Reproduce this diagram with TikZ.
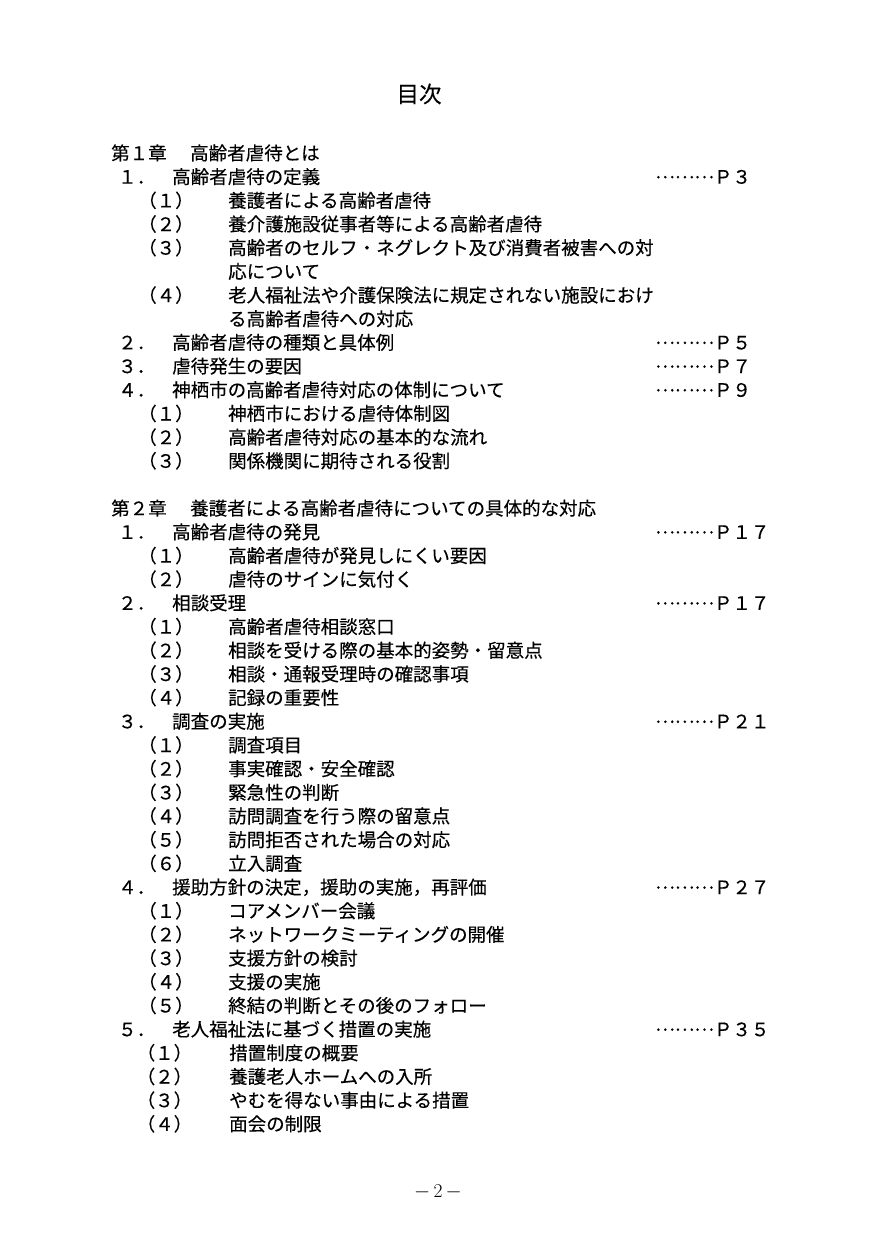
\documentclass[tikz,border=0pt]{standalone}
\usepackage{fontspec}
\usepackage{tikz}
\newfontfamily\jpfont[FakeBold=0.3]{Noto Sans CJK JP}
\newfontfamily\jpwide[FakeBold=0.3,RawFeature=+fwid]{Noto Sans CJK JP}
\newcommand\leaderdots{\raisebox{5.5pt}{\jpwide ………}}

\tikzset{
	entry/.style	= {anchor=base west, inner sep=0pt,
				font=\jpfont\fontsize{18.5}{20}\selectfont},
	heading/.style	= {anchor=base, inner sep=0pt,
				font=\jpfont\fontsize{22.5}{24}\selectfont},
	folio/.style	= {anchor=base, inner sep=0pt,
				font=\fontsize{19.5}{21}\selectfont}
}

\begin{document}
\begin{tikzpicture}[x=1pt, y=-1pt]
		%\draw[help lines] (0,0) grid (874,1236);
		\useasboundingbox (0,0) rectangle (874,1236);

		\node[heading] (title) at (419,102.5) {目次};

		% chapter 1
		\node[entry] (c1)   at (111,160.0) {第１章};
		\node[entry] (c1t)  at (190,160.0) {高齢者虐待とは};

		\node[entry] (n11)  at (118,183.7) {１．};
		\node[entry] (t11)  at (172,183.7) {高齢者虐待の定義};
		\node[entry] (p11)  at (655,183.7) {\leaderdots Ｐ３};
		\node[entry] (n111) at (138,207.4) {（１）};
		\node[entry] (t111) at (228,207.4) {養護者による高齢者虐待};
		\node[entry] (n112) at (138,231.0) {（２）};
		\node[entry] (t112) at (228,231.0) {養介護施設従事者等による高齢者虐待};
		\node[entry] (n113) at (138,254.7) {（３）};
		\node[entry] (t113) at (228,254.7) {高齢者のセルフ・ネグレクト及び消費者被害への対};
		\node[entry] (u113) at (228,278.4) {応について};
		\node[entry] (n114) at (138,302.1) {（４）};
		\node[entry] (t114) at (228,302.1) {老人福祉法や介護保険法に規定されない施設におけ};
		\node[entry] (u114) at (228,325.8) {る高齢者虐待への対応};

		\node[entry] (n12)  at (118,349.4) {２．};
		\node[entry] (t12)  at (172,349.4) {高齢者虐待の種類と具体例};
		\node[entry] (p12)  at (655,349.4) {\leaderdots Ｐ５};
		\node[entry] (n13)  at (118,373.1) {３．};
		\node[entry] (t13)  at (172,373.1) {虐待発生の要因};
		\node[entry] (p13)  at (655,373.1) {\leaderdots Ｐ７};
		\node[entry] (n14)  at (118,396.8) {４．};
		\node[entry] (t14)  at (172,396.8) {神栖市の高齢者虐待対応の体制について};
		\node[entry] (p14)  at (655,396.8) {\leaderdots Ｐ９};
		\node[entry] (n141) at (138,420.5) {（１）};
		\node[entry] (t141) at (228,420.5) {神栖市における虐待体制図};
		\node[entry] (n142) at (138,444.2) {（２）};
		\node[entry] (t142) at (228,444.2) {高齢者虐待対応の基本的な流れ};
		\node[entry] (n143) at (138,467.8) {（３）};
		\node[entry] (t143) at (228,467.8) {関係機関に期待される役割};

		% chapter 2
		\node[entry] (c2)   at (111,515.2) {第２章};
		\node[entry] (c2t)  at (190,515.2) {養護者による高齢者虐待についての具体的な対応};

		\node[entry] (n21)  at (118,538.9) {１．};
		\node[entry] (t21)  at (172,538.9) {高齢者虐待の発見};
		\node[entry] (p21)  at (655,538.9) {\leaderdots Ｐ１７};
		\node[entry] (n211) at (138,562.6) {（１）};
		\node[entry] (t211) at (228,562.6) {高齢者虐待が発見しにくい要因};
		\node[entry] (n212) at (138,586.2) {（２）};
		\node[entry] (t212) at (228,586.2) {虐待のサインに気付く};

		\node[entry] (n22)  at (118,609.9) {２．};
		\node[entry] (t22)  at (172,609.9) {相談受理};
		\node[entry] (p22)  at (655,609.9) {\leaderdots Ｐ１７};
		\node[entry] (n221) at (138,633.6) {（１）};
		\node[entry] (t221) at (228,633.6) {高齢者虐待相談窓口};
		\node[entry] (n222) at (138,657.3) {（２）};
		\node[entry] (t222) at (228,657.3) {相談を受ける際の基本的姿勢・留意点};
		\node[entry] (n223) at (138,681.0) {（３）};
		\node[entry] (t223) at (228,681.0) {相談・通報受理時の確認事項};
		\node[entry] (n224) at (138,704.6) {（４）};
		\node[entry] (t224) at (228,704.6) {記録の重要性};

		\node[entry] (n23)  at (118,728.3) {３．};
		\node[entry] (t23)  at (172,728.3) {調査の実施};
		\node[entry] (p23)  at (655,728.3) {\leaderdots Ｐ２１};
		\node[entry] (n231) at (138,752.0) {（１）};
		\node[entry] (t231) at (228,752.0) {調査項目};
		\node[entry] (n232) at (138,775.7) {（２）};
		\node[entry] (t232) at (228,775.7) {事実確認・安全確認};
		\node[entry] (n233) at (138,799.4) {（３）};
		\node[entry] (t233) at (228,799.4) {緊急性の判断};
		\node[entry] (n234) at (138,823.0) {（４）};
		\node[entry] (t234) at (228,823.0) {訪問調査を行う際の留意点};
		\node[entry] (n235) at (138,846.7) {（５）};
		\node[entry] (t235) at (228,846.7) {訪問拒否された場合の対応};
		\node[entry] (n236) at (138,870.4) {（６）};
		\node[entry] (t236) at (228,870.4) {立入調査};

		\node[entry] (n24)  at (118,894.1) {４．};
		\node[entry] (t24)  at (172,894.1) {援助方針の決定，援助の実施，再評価};
		\node[entry] (p24)  at (655,894.1) {\leaderdots Ｐ２７};
		\node[entry] (n241) at (138,917.8) {（１）};
		\node[entry] (t241) at (228,917.8) {コアメンバー会議};
		\node[entry] (n242) at (138,941.4) {（２）};
		\node[entry] (t242) at (228,941.4) {ネットワークミーティングの開催};
		\node[entry] (n243) at (138,965.1) {（３）};
		\node[entry] (t243) at (228,965.1) {支援方針の検討};
		\node[entry] (n244) at (138,988.8) {（４）};
		\node[entry] (t244) at (228,988.8) {支援の実施};
		\node[entry] (n245) at (138,1012.5) {（５）};
		\node[entry] (t245) at (228,1012.5) {終結の判断とその後のフォロー};

		\node[entry] (n25)  at (118,1036.2) {５．};
		\node[entry] (t25)  at (172,1036.2) {老人福祉法に基づく措置の実施};
		\node[entry] (p25)  at (655,1036.2) {\leaderdots Ｐ３５};
		\node[entry] (n251) at (136.5,1059.8) {（１）};
		\node[entry] (t251) at (229,1059.8) {措置制度の概要};
		\node[entry] (n252) at (136.5,1083.5) {（２）};
		\node[entry] (t252) at (229,1083.5) {養護老人ホームへの入所};
		\node[entry] (n253) at (136.5,1107.2) {（３）};
		\node[entry] (t253) at (229,1107.2) {やむを得ない事由による措置};
		\node[entry] (n254) at (136.5,1130.9) {（４）};
		\node[entry] (t254) at (229,1130.9) {面会の制限};

		\node[folio] (pageno) at (438,1197) {$-$\,2\,$-$};
\end{tikzpicture}
\end{document}
